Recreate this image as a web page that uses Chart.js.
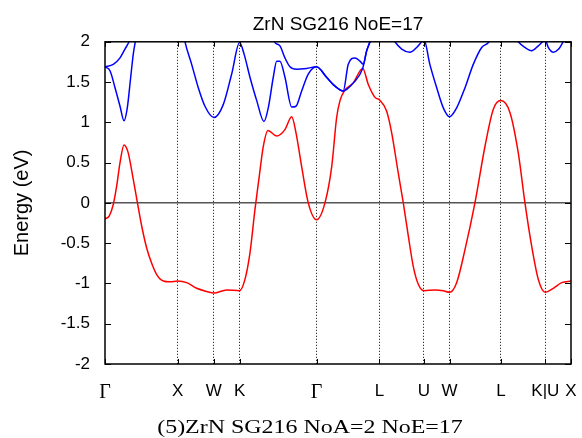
<!DOCTYPE html>
<html>
<head>
<meta charset="utf-8">
<script src="https://cdn.jsdelivr.net/npm/chart.js@4"></script>
<style>
  body { margin: 0; background: #fff; }
  #wrap { position: relative; width: 582px; height: 438px; }
  #caption {
    position: absolute; left: 310px; top: 418px; transform: translateX(-50%) scaleX(1.33);
    font-family: "Liberation Serif", serif; font-size: 18px; line-height: 18px;
    white-space: nowrap; color: #000;
  }
</style>
</head>
<body>
<div id="wrap">
  <canvas id="bands" width="582" height="438"></canvas>
  <div id="caption">(5)ZrN SG216 NoA=2 NoE=17</div>
</div>
<script>
// high symmetry points along the path (2pi/a units)
const kPos = [0, 1, 1.5, 1.8536, 2.9142, 3.7802, 4.3926, 4.7462, 5.4533, 6.0657, 6.4193];
const kLabels = ['Γ', 'X', 'W', 'K', 'Γ', 'L', 'U', 'W', 'L', 'K|U', 'X'];

// valence band (red)
const redK = [0, 0.059, 0.114, 0.161, 0.207, 0.262, 0.317, 0.382, 0.445, 0.506, 0.574, 0.643, 0.712, 0.803, 0.895, 1.0,
  1.125, 1.263, 1.401, 1.5, 1.676, 1.854, 1.928, 1.997, 2.066, 2.125, 2.180, 2.245, 2.365, 2.479, 2.572, 2.631,
  2.709, 2.800, 2.914, 3.030, 3.123, 3.191, 3.237, 3.296, 3.420, 3.550, 3.627, 3.719, 3.780, 3.879, 3.949,
  4.040, 4.109, 4.178, 4.247, 4.316, 4.393, 4.545, 4.660, 4.746, 4.844, 4.959, 5.096, 5.234, 5.348, 5.453,
  5.579, 5.693, 5.785, 5.878, 5.969, 6.066, 6.175, 6.291, 6.419];
const redE = [-0.20, -0.16, -0.02, 0.21, 0.50, 0.72, 0.63, 0.33, 0.01, -0.29, -0.56, -0.75, -0.89, -0.97, -0.98, -0.97,
  -0.99, -1.06, -1.10, -1.12, -1.08, -1.09, -0.95, -0.62, -0.08, 0.33, 0.70, 0.90, 0.83, 0.91, 1.07, 0.87,
  0.45, 0.00, -0.21, 0.00, 0.45, 1.06, 1.27, 1.39, 1.49, 1.67, 1.47, 1.31, 1.28, 1.14, 0.87,
  0.37, 0.00, -0.41, -0.79, -1.01, -1.09, -1.08, -1.09, -1.11, -0.99, -0.58, 0.00, 0.70, 1.16, 1.27,
  1.12, 0.62, 0.00, -0.54, -0.95, -1.11, -1.06, -0.99, -0.97];

// conduction band 1 (blue)
const blue1K = [0, 0.069, 0.138, 0.207, 0.262, 0.307, 0.354, 0.390, 0.417, 0.48, 1.0, 1.102, 1.194, 1.285, 1.377,
  1.5, 1.629, 1.745, 1.854, 1.915, 1.997, 2.090, 2.190, 2.249, 2.318, 2.365, 2.410, 2.479, 2.572, 2.631, 2.709,
  2.800, 2.914, 3.052, 3.168, 3.282, 3.420, 3.550, 3.605, 3.650, 3.780, 3.994, 4.087, 4.201, 4.293, 4.362,
  4.393, 4.475, 4.569, 4.660, 4.746, 4.844, 4.959, 5.073, 5.189, 5.289, 5.453, 5.693, 5.785, 5.878, 5.969,
  6.066, 6.106, 6.176, 6.249, 6.310, 6.419];
const blue1E = [1.69, 1.64, 1.43, 1.20, 1.02, 1.18, 1.56, 1.85, 2.00, 2.30, 2.50, 2.00, 1.72, 1.43, 1.20,
  1.06, 1.22, 1.60, 1.99, 1.85, 1.56, 1.27, 1.01, 1.18, 1.56, 1.76, 1.76, 1.56, 1.19, 1.20, 1.39,
  1.60, 1.69, 1.56, 1.45, 1.39, 1.49, 1.67, 1.89, 2.00, 2.35, 2.00, 1.91, 1.87, 1.93, 2.00,
  2.03, 1.72, 1.43, 1.18, 1.07, 1.18, 1.43, 1.72, 1.93, 2.00, 2.35, 2.00, 1.93, 1.89, 1.95,
  2.02, 1.93, 1.87, 1.91, 2.00, 2.20];

// conduction band 2 (blue)
const blue2K = [0, 0.114, 0.207, 0.275, 0.331, 0.45, 2.2, 2.342, 2.410, 2.479, 2.548, 2.640, 2.778, 2.914,
  3.052, 3.168, 3.282, 3.351, 3.444, 3.512, 3.557, 3.605, 3.650, 3.75];
const blue2E = [1.69, 1.72, 1.80, 1.91, 2.00, 2.30, 2.30, 1.99, 1.95, 1.80, 1.69, 1.66, 1.67, 1.69,
  1.56, 1.45, 1.39, 1.72, 1.80, 1.76, 1.72, 1.89, 2.00, 2.30];

const yTicks = [-2, -1.5, -1, -0.5, 0, 0.5, 1, 1.5, 2];

const pts = (ks, es) => ks.map((k, i) => ({x: k, y: es[i]}));

const band = (ks, es, color) => ({
  data: pts(ks, es),
  borderColor: color,
  borderWidth: 1.5,
  pointRadius: 0,
  fill: false,
  cubicInterpolationMode: 'monotone'
});

// gnuplot style frame with inward ticks
const frame = {
  id: 'frame',
  afterDatasetsDraw(chart) {
    const {ctx, chartArea: a, scales: {x, y}} = chart;
    ctx.save();
    ctx.strokeStyle = '#000';
    ctx.lineWidth = 1;
    ctx.beginPath();
    yTicks.forEach(v => {
      const py = Math.round(y.getPixelForValue(v)) + 0.5;
      ctx.moveTo(a.left, py); ctx.lineTo(a.left + 6, py);
      ctx.moveTo(a.right, py); ctx.lineTo(a.right - 6, py);
    });
    kPos.forEach(v => {
      const px = Math.round(x.getPixelForValue(v)) + 0.5;
      ctx.moveTo(px, a.bottom); ctx.lineTo(px, a.bottom - 5);
      ctx.moveTo(px, a.top); ctx.lineTo(px, a.top + 5);
    });
    ctx.stroke();
    ctx.lineWidth = 1.5;
    ctx.strokeRect(a.left, a.top, a.right - a.left, a.bottom - a.top);
    ctx.restore();
  }
};

new Chart(document.getElementById('bands'), {
  type: 'line',
  data: {
    datasets: [
      band(blue1K, blue1E, '#0000ff'),
      band(blue2K, blue2E, '#0000ff'),
      band(redK, redE, '#ff0000')
    ]
  },
  options: {
    responsive: false,
    animation: false,
    devicePixelRatio: 1,
    layout: { padding: { top: 0, right: 11, bottom: 0, left: 0 } },
    plugins: {
      legend: { display: false },
      tooltip: { enabled: false },
      title: {
        display: true,
        text: 'ZrN SG216 NoE=17',
        fullSize: false,
        color: '#000',
        font: { family: 'Liberation Sans', size: 19, weight: 'normal' },
        padding: { top: 13, bottom: 6 }
      }
    },
    scales: {
      x: {
        type: 'linear',
        min: 0,
        max: kPos[kPos.length - 1],
        afterBuildTicks: s => { s.ticks = kPos.map(v => ({value: v})); },
        afterFit: s => { s.height = 74; },
        ticks: {
          autoSkip: false,
          maxRotation: 0,
          padding: 0,
          color: '#000',
          callback: (v, i) => kLabels[i],
          font: c => kLabels[c.index] === 'Γ'
            ? { family: 'Liberation Serif', size: 20 }
            : { family: 'Liberation Sans', size: 17 }
        },
        grid: {
          drawTicks: true,
          tickLength: 17,
          tickColor: 'rgba(0,0,0,0)',
          lineWidth: 1,
          color: c => (c.index === 0 || c.index === kPos.length - 1) ? 'rgba(0,0,0,0)' : '#000'
        },
        border: { display: false, dash: [1, 2] }
      },
      y: {
        min: -2,
        max: 2,
        afterBuildTicks: s => { s.ticks = yTicks.map(v => ({value: v})); },
        afterFit: s => { s.width = 105; },
        ticks: {
          padding: 15,
          color: '#000',
          callback: v => String(v),
          font: { family: 'Liberation Sans', size: 17 }
        },
        title: {
          display: true,
          text: 'Energy (eV)',
          color: '#000',
          font: { family: 'Liberation Sans', size: 20 },
          padding: { top: 10, bottom: 0 }
        },
        grid: {
          drawTicks: false,
          lineWidth: 1.5,
          color: c => c.tick && c.tick.value === 0 ? '#555' : 'rgba(0,0,0,0)'
        },
        border: { display: false }
      }
    }
  },
  plugins: [frame]
});
</script>
</body>
</html>
